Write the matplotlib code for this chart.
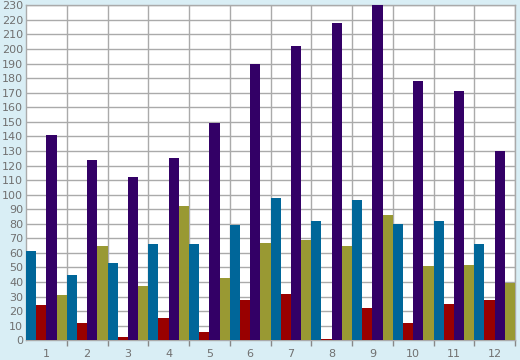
import numpy as np
import matplotlib.pyplot as plt

months = ['1', '2', '3', '4', '5', '6', '7', '8', '9', '10', '11', '12']
blue = [61, 45, 53, 66, 66, 79, 98, 82, 96, 80, 82, 66]
red = [24, 12, 2, 15, 6, 28, 32, 1, 22, 12, 25, 28]
purple = [141, 124, 112, 125, 149, 190, 202, 218, 232, 178, 171, 130]
olive = [31, 65, 37, 92, 43, 67, 69, 65, 86, 51, 52, 39]

series = [blue, red, purple, olive]
colors = ['#006699', '#990000', '#330066', '#999933']

fig = plt.figure(figsize=(5.2, 3.6), dpi=100)
fig.patch.set_facecolor('#d9eef5')
ax = fig.add_axes([26 / 520, 19.7 / 360, 489 / 520, 335 / 360])
ax.set_facecolor('white')

x = np.arange(len(months))
w = 0.25
for k, (vals, c) in enumerate(zip(series, colors)):
    ax.bar(x + (k - 1.5) * w, vals, width=w, color=c, zorder=3, linewidth=0)

ax.set_xlim(-0.5, len(months) - 0.5)
ax.set_ylim(0, 230)
ax.set_yticks(np.arange(0, 231, 10))
ax.set_xticks(x)
ax.set_xticklabels(months)
ax.set_xticks(np.arange(0.5, len(months), 1), minor=True)

ax.grid(axis='y', which='major', color='#aaaaaa', linewidth=1, zorder=0)
ax.grid(axis='x', which='minor', color='#aaaaaa', linewidth=1, zorder=0)
ax.tick_params(axis='x', which='major', length=0, pad=6, labelsize=8, labelcolor='#707070')
ax.tick_params(axis='x', which='minor', length=4, color='#888888', width=1)
ax.tick_params(axis='y', length=0, pad=2, labelsize=8, labelcolor='#707070')
for s in ax.spines.values():
    s.set_color('#aaaaaa')
    s.set_linewidth(1)

fig.savefig('out.png', dpi=100, facecolor=fig.get_facecolor())
